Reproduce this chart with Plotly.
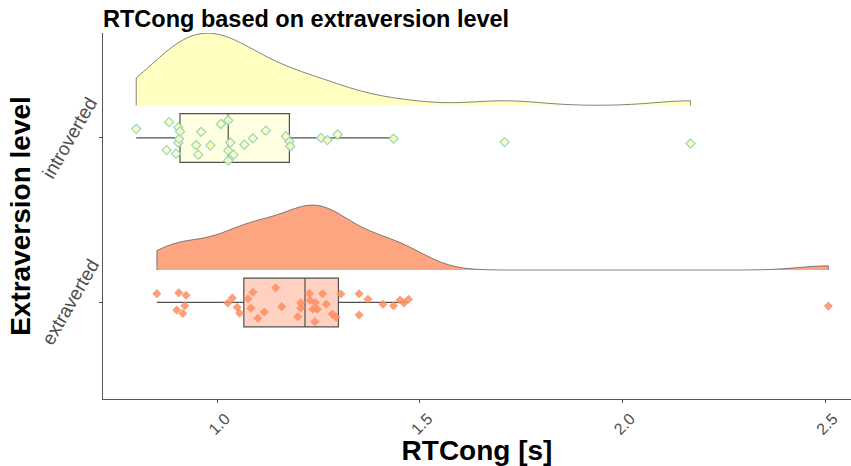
import numpy as np
import plotly.graph_objects as go

# ---- data ----
groups = ["extraverted", "introverted"]

introverted_rt = [0.800, 0.875, 0.881, 0.898, 0.904, 0.904, 0.906, 0.908, 0.948, 0.953,
                  0.960, 0.983, 1.009, 1.027, 1.027, 1.027, 1.032, 1.040, 1.067, 1.088,
                  1.120, 1.169, 1.178, 1.180, 1.256, 1.272, 1.297, 1.435, 1.709, 2.168]

extraverted_rt = [0.851, 0.900, 0.905, 0.915, 0.920, 0.923, 1.026, 1.037, 1.049, 1.055,
                  1.076, 1.083, 1.088, 1.100, 1.116, 1.144, 1.159, 1.199, 1.206, 1.206,
                  1.227, 1.229, 1.236, 1.241, 1.242, 1.247, 1.260, 1.269, 1.284, 1.293,
                  1.305, 1.350, 1.350, 1.372, 1.409, 1.435, 1.451, 1.461, 1.472, 2.508]

x_tick_vals = [1.0, 1.5, 2.0, 2.5]
x_tick_text = ["1.0", "1.5", "2.0", "2.5"]

series = {"extraverted": extraverted_rt, "introverted": introverted_rt}

# ---- styles ----
FONT = "Liberation Sans, Arial, sans-serif"
styles = {
    "introverted": dict(violin="rgba(255,255,179,0.8)", box="rgba(255,255,179,0.4)",
                        point="rgba(255,255,179,0.9)", point_line="rgba(141,211,199,0.95)",
                        point_line_w=1.2, vheight=0.44),
    "extraverted": dict(violin="rgba(252,141,98,0.8)", box="rgba(252,141,98,0.4)",
                        point="rgba(252,141,98,0.85)", point_line="rgba(252,141,98,0)",
                        point_line_w=0, vheight=0.395),
}
VIOLIN_OFFSET = 0.197
BOX_WIDTH = 0.296
W, H = 851, 466


def nrd0(v):
    v = np.asarray(v, dtype=float)
    sd = v.std(ddof=1)
    q75, q25 = np.percentile(v, [75, 25])
    lo = min(sd, (q75 - q25) / 1.34)
    return 0.9 * lo * len(v) ** (-0.2)


fig = go.Figure()

for i, g in enumerate(groups):
    pos = i + 1
    vals = series[g]
    st = styles[g]
    fig.add_trace(go.Violin(
        x=vals, y0=pos + VIOLIN_OFFSET, orientation="h", side="positive",
        width=2 * st["vheight"], scalemode="width", spanmode="hard",
        bandwidth=nrd0(vals), points=False,
        box=dict(visible=False), meanline=dict(visible=False),
        fillcolor=st["violin"], line=dict(color="#505050", width=0.7),
        hoverinfo="skip", showlegend=False,
    ))

for i, g in enumerate(groups):
    pos = i + 1
    vals = series[g]
    st = styles[g]
    fig.add_trace(go.Box(
        x=vals, y0=pos, orientation="h", width=BOX_WIDTH,
        boxpoints="all", jitter=1, pointpos=0, whiskerwidth=0,
        fillcolor=st["box"], line=dict(color="#505050", width=1.2),
        marker=dict(symbol="diamond", size=7, color=st["point"],
                    line=dict(color=st["point_line"], width=st["point_line_w"])),
        showlegend=False, name=g,
    ))

# category labels on the y axis (rotated)
for i, g in enumerate(groups):
    fig.add_annotation(
        text=g, xref="paper", yref="y", x=-0.044, y=i + 1,
        xanchor="center", yanchor="middle", textangle=-60, showarrow=False,
        font=dict(family=FONT, size=19, color="#4D4D4D"),
    )

fig.update_layout(
    width=W, height=H,
    margin=dict(l=103, r=0, t=33, b=67),
    paper_bgcolor="white", plot_bgcolor="white",
    font=dict(family=FONT),
    title=dict(text="<b>RTCong based on extraversion level</b>",
               x=0, xref="paper", xanchor="left",
               y=1 - 18.5 / H, yref="container", yanchor="middle",
               font=dict(family=FONT, size=23.5, color="black")),
    xaxis=dict(range=[0.718, 2.564], tickvals=x_tick_vals, ticktext=x_tick_text,
               tickangle=-45, tickfont=dict(family=FONT, size=16, color="#4D4D4D"),
               ticklabelshift=8,
               showline=True, linecolor="#555555", linewidth=1.2,
               ticks="outside", ticklen=3, tickcolor="#555555",
               showgrid=False, zeroline=False,
               title=dict(text="<b>RTCong [s]</b>", standoff=4,
                          font=dict(family=FONT, size=28, color="black"))),
    yaxis=dict(range=[0.413, 2.638], tickvals=[1, 2], showticklabels=False,
               showline=True, linecolor="#555555", linewidth=1.2,
               ticks="outside", ticklen=3, tickcolor="#555555",
               showgrid=False, zeroline=False,
               title=dict(text="<b>Extraversion level</b>", standoff=60,
                          font=dict(family=FONT, size=28, color="black"))),
)

fig.write_html("out.html", config={"displayModeBar": False},
               post_script="document.body.style.margin='0';document.body.style.padding='0';")
